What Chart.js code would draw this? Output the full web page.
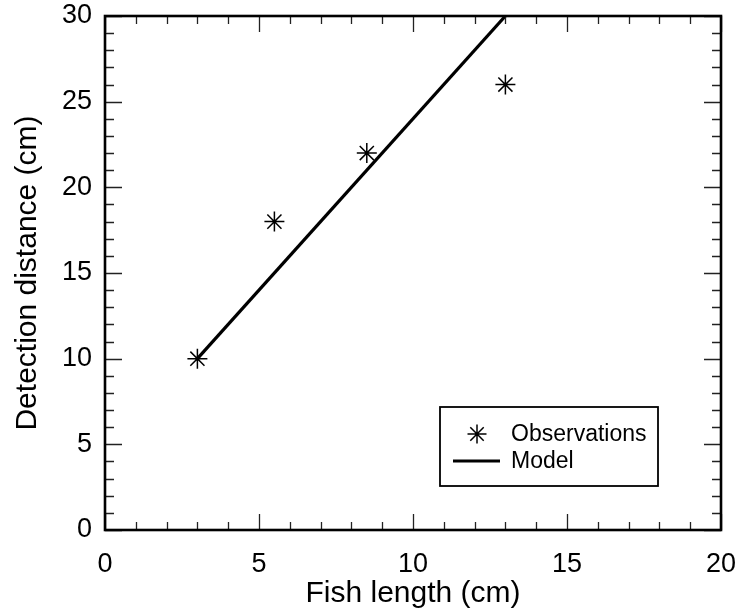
<!DOCTYPE html>
<html>
<head>
<meta charset="utf-8">
<script src="https://cdn.jsdelivr.net/npm/chart.js@4/dist/chart.umd.min.js"></script>
<style>
html,body{margin:0;padding:0;background:#fff;}
#wrap{width:738px;height:613px;}
</style>
</head>
<body>
<div id="wrap"><canvas id="c" width="738" height="613"></canvas></div>
<script>
const obsX = [3, 5.5, 8.5, 13];
const obsY = [10, 18, 22, 26];
const modelX = [3, 13];
const modelY = [10, 30];
const xTicks = [0, 5, 10, 15, 20];
const yTicks = [0, 5, 10, 15, 20, 25, 30];
const seriesLabels = ['Observations', 'Model'];
const xTitle = 'Fish length (cm)';
const yTitle = 'Detection distance (cm)';

const FONT = '"Liberation Sans", Arial, Helvetica, sans-serif';

const frameAndTicks = {
  id: 'frameAndTicks',
  afterDatasetsDraw(chart) {
    const ctx = chart.ctx;
    const a = chart.chartArea;
    const xs = chart.scales.x, ys = chart.scales.y;
    ctx.save();
    ctx.strokeStyle = '#222';
    ctx.lineWidth = 1.3;
    ctx.beginPath();
    for (let v = xs.min; v <= xs.max + 1e-9; v += 1) {
      const px = Math.round(xs.getPixelForValue(v)) + 0.5;
      const len = (Math.abs(v % 5) < 1e-9) ? 16 : 8;
      ctx.moveTo(px, a.bottom); ctx.lineTo(px, a.bottom - len);
      ctx.moveTo(px, a.top); ctx.lineTo(px, a.top + len);
    }
    for (let v = ys.min; v <= ys.max + 1e-9; v += 1) {
      const py = Math.round(ys.getPixelForValue(v)) + 0.5;
      const len = (Math.abs(v % 5) < 1e-9) ? 17 : 9;
      ctx.moveTo(a.left, py); ctx.lineTo(a.left + len, py);
      ctx.moveTo(a.right, py); ctx.lineTo(a.right - len, py);
    }
    ctx.stroke();
    ctx.strokeStyle = '#000';
    ctx.lineWidth = 2.6;
    ctx.strokeRect(a.left, a.top, a.right - a.left, a.bottom - a.top);
    ctx.restore();
  },
  afterDraw(chart) {
    const ctx = chart.ctx;
    const ds = chart.data.datasets;
    const bx = 440, by = 407, bw = 218, bh = 79;
    ctx.save();
    ctx.fillStyle = '#fff';
    ctx.fillRect(bx, by, bw, bh);
    ctx.strokeStyle = '#000';
    ctx.lineWidth = 1.8;
    ctx.strokeRect(bx, by, bw, bh);
    ctx.strokeStyle = ds[0].borderColor;
    ctx.lineWidth = ds[0].borderWidth;
    Chart.helpers.drawPoint(ctx, {pointStyle: 'star', radius: 9.5, rotation: 0, borderWidth: ds[0].borderWidth}, 477, 434);
    ctx.beginPath();
    ctx.strokeStyle = ds[1].borderColor;
    ctx.lineWidth = ds[1].borderWidth;
    ctx.moveTo(453, 461); ctx.lineTo(500, 461);
    ctx.stroke();
    ctx.fillStyle = '#000';
    ctx.font = '23px ' + FONT;
    ctx.textBaseline = 'middle';
    ctx.textAlign = 'left';
    ctx.fillText(ds[0].label, 511, 435);
    ctx.fillText(ds[1].label, 511, 462);
    ctx.restore();
  }
};

function noPad(s) { s.paddingTop = 0; s.paddingBottom = 0; s.paddingLeft = 0; s.paddingRight = 0; }

new Chart(document.getElementById('c'), {
  type: 'scatter',
  data: {
    datasets: [
      {
        label: seriesLabels[0],
        data: obsX.map((x, i) => ({x: x, y: obsY[i]})),
        showLine: false,
        pointStyle: 'star',
        pointRadius: 10,
        pointBorderWidth: 1.5,
        borderColor: '#000',
        backgroundColor: '#000',
        borderWidth: 1.5,
        order: 1
      },
      {
        label: seriesLabels[1],
        data: modelX.map((x, i) => ({x: x, y: modelY[i]})),
        showLine: true,
        pointRadius: 0,
        borderColor: '#000',
        borderWidth: 3.2,
        fill: false,
        order: 2
      }
    ]
  },
  options: {
    responsive: false,
    animation: false,
    events: [],
    layout: {padding: {top: 16, right: 17, left: 0, bottom: 0}},
    plugins: {legend: {display: false}, tooltip: {enabled: false}},
    scales: {
      x: {
        type: 'linear', min: 0, max: 20,
        afterFit(s) { s.height = 83; noPad(s); },
        afterBuildTicks(s) { s.ticks = xTicks.map(v => ({value: v})); },
        grid: {display: false, drawTicks: false},
        border: {display: false},
        ticks: {color: '#000', padding: 18, font: {family: FONT, size: 27}, maxRotation: 0},
        title: {display: true, text: xTitle, color: '#000', font: {family: FONT, size: 30}, padding: {top: 0, bottom: 1}}
      },
      y: {
        type: 'linear', min: 0, max: 30,
        afterFit(s) { s.width = 105; noPad(s); },
        afterBuildTicks(s) { s.ticks = yTicks.map(v => ({value: v})); },
        grid: {display: false, drawTicks: false},
        border: {display: false},
        ticks: {color: '#000', padding: 13, font: {family: FONT, size: 27}},
        title: {display: true, text: yTitle, color: '#000', font: {family: FONT, size: 30}, padding: {top: 10, bottom: 0}}
      }
    }
  },
  plugins: [frameAndTicks]
});
</script>
</body>
</html>
